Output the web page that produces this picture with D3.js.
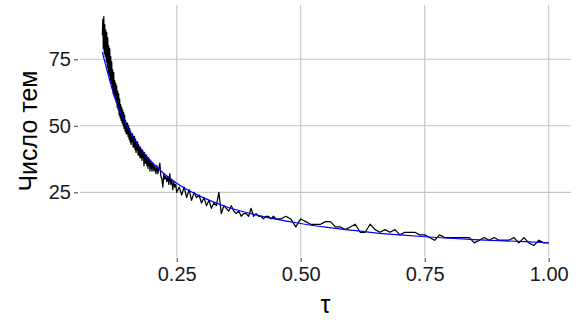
<!DOCTYPE html>
<html>
<head>
<meta charset="utf-8">
<script src="https://cdn.jsdelivr.net/npm/d3@7"></script>
<style>
  body { margin: 0; background: #fff; }
  svg text { font-family: "Liberation Sans", Arial, sans-serif; }
</style>
</head>
<body>
<svg id="chart" width="582" height="320"></svg>
<script>
// black series: number of topics for each tau
const topics = [
  [0.100, 84], [0.101, 90], [0.102, 79], [0.103, 91], [0.104, 77], [0.105, 88], [0.106, 76], [0.107, 86],
  [0.108, 74], [0.109, 85], [0.110, 72], [0.111, 83], [0.112, 70], [0.113, 80], [0.114, 69], [0.115, 79],
  [0.116, 67], [0.117, 76], [0.118, 66], [0.119, 74], [0.120, 64], [0.121, 71], [0.122, 62], [0.123, 70],
  [0.124, 61], [0.125, 67], [0.126, 60], [0.127, 66], [0.128, 59], [0.129, 65], [0.130, 57], [0.131, 63],
  [0.132, 56], [0.133, 62], [0.134, 54], [0.135, 60], [0.136, 53], [0.137, 58], [0.138, 52], [0.139, 57],
  [0.140, 51], [0.141, 56], [0.142, 50], [0.143, 55], [0.144, 49], [0.145, 54], [0.146, 48], [0.147, 52],
  [0.148, 47], [0.149, 51], [0.150, 47], [0.151, 51], [0.152, 46], [0.153, 50], [0.154, 45], [0.155, 49],
  [0.156, 44], [0.157, 48], [0.158, 43], [0.159, 47], [0.160, 44], [0.161, 47], [0.162, 42], [0.163, 46],
  [0.164, 42], [0.165, 46], [0.166, 41], [0.167, 45], [0.168, 40], [0.169, 44], [0.170, 41], [0.171, 44],
  [0.172, 39], [0.173, 43], [0.174, 39], [0.175, 42], [0.176, 38], [0.177, 42], [0.178, 38], [0.179, 41],
  [0.180, 37], [0.181, 41], [0.182, 38], [0.183, 40], [0.184, 35], [0.185, 40], [0.186, 36], [0.187, 39],
  [0.188, 36], [0.189, 39], [0.190, 35], [0.191, 38], [0.192, 34], [0.193, 38], [0.194, 35], [0.195, 37],
  [0.196, 33], [0.197, 37], [0.198, 34], [0.199, 36], [0.200, 33],
  [0.202, 36], [0.204, 33], [0.206, 35], [0.208, 32], [0.210, 35], [0.212, 32], [0.214, 34], [0.216, 36],
  [0.218, 31], [0.220, 30], [0.222, 27], [0.224, 32], [0.226, 30], [0.228, 31], [0.230, 29], [0.232, 31],
  [0.234, 28], [0.236, 32], [0.238, 28], [0.240, 30], [0.242, 26], [0.244, 29], [0.246, 27], [0.248, 28],
  [0.250, 25],
  [0.255, 27], [0.260, 24], [0.265, 27], [0.270, 23], [0.275, 26], [0.280, 22], [0.285, 25], [0.290, 23],
  [0.295, 24], [0.300, 21], [0.305, 23], [0.310, 20], [0.315, 22], [0.320, 19], [0.325, 21], [0.330, 20],
  [0.335, 25], [0.340, 17], [0.345, 20], [0.350, 19], [0.355, 18], [0.360, 20], [0.365, 18], [0.370, 17],
  [0.375, 18], [0.380, 16], [0.385, 17], [0.390, 17], [0.395, 16], [0.400, 19], [0.405, 16], [0.410, 17],
  [0.415, 16], [0.420, 16], [0.425, 15], [0.430, 16], [0.435, 16], [0.440, 15], [0.445, 16], [0.450, 15],
  [0.46, 15], [0.47, 16], [0.48, 15], [0.49, 12], [0.50, 15], [0.51, 14], [0.52, 13], [0.53, 13],
  [0.54, 13], [0.55, 14], [0.56, 14], [0.57, 12], [0.58, 12], [0.59, 11], [0.60, 12], [0.61, 13],
  [0.62, 10], [0.63, 10], [0.64, 13], [0.65, 11], [0.66, 10], [0.67, 11], [0.68, 10], [0.69, 11],
  [0.70, 9], [0.71, 10], [0.72, 10], [0.73, 10], [0.74, 9], [0.75, 9], [0.76, 8], [0.77, 7],
  [0.78, 9], [0.79, 8], [0.80, 8], [0.81, 8], [0.82, 8], [0.83, 8], [0.84, 8], [0.85, 6],
  [0.86, 7], [0.87, 8], [0.88, 7], [0.89, 8], [0.90, 7], [0.91, 7], [0.92, 7], [0.93, 8],
  [0.94, 6], [0.95, 8], [0.96, 6], [0.97, 5], [0.98, 7], [0.99, 6], [1.00, 6]
]

// blue smoothed trend
const trendTau = [0.10, 0.125, 0.15, 0.175, 0.20, 0.225, 0.25, 0.30, 0.35, 0.40, 0.45, 0.50,
  0.55, 0.60, 0.65, 0.70, 0.75, 0.80, 0.85, 0.90, 0.95, 1.00]
const trendVal = [77.7, 60.8, 49.8, 42.0, 36.3, 31.9, 28.4, 23.3, 19.6, 17.0, 14.9, 13.3,
  11.9, 10.8, 9.8, 9.0, 8.3, 7.75, 7.25, 6.85, 6.45, 6.05]

const xTicks = [0.25, 0.50, 0.75, 1.00]
const yTicks = [25, 50, 75]
const xTitle = 'τ'
const yTitle = 'Число тем'

const panel = { left: 80, right: 571, top: 5, bottom: 257 }
const gridColor = '#c6c6c6'

const svg = d3.select('#chart')

const x = d3.scaleLinear().domain([0.055, 1.045]).range([panel.left, panel.right])
const y = d3.scaleLinear().domain([0.7, 95.4]).range([panel.bottom, panel.top])

// grid
svg.append('g')
  .selectAll('line')
  .data(yTicks)
  .join('line')
  .attr('x1', panel.left).attr('x2', panel.right)
  .attr('y1', d => y(d)).attr('y2', d => y(d))
  .style('stroke', gridColor)
  .style('stroke-width', 1.1)

svg.append('g')
  .selectAll('line')
  .data(xTicks)
  .join('line')
  .attr('y1', panel.top).attr('y2', panel.bottom)
  .attr('x1', d => x(d)).attr('x2', d => x(d))
  .style('stroke', gridColor)
  .style('stroke-width', 1.1)

// axes
const xAxis = svg.append('g')
  .attr('transform', 'translate(0,' + (panel.bottom + 1) + ')')
  .call(d3.axisBottom(x).tickValues(xTicks).tickFormat(d3.format('.2f')).tickSize(4).tickPadding(5))
xAxis.select('.domain').remove()

const yAxis = svg.append('g')
  .attr('transform', 'translate(' + (panel.left - 2) + ',0)')
  .call(d3.axisLeft(y).tickValues(yTicks).tickSize(4).tickPadding(3))
yAxis.select('.domain').remove()

svg.selectAll('.tick line').style('stroke', '#4d4d4d').style('stroke-width', 1.1)
svg.selectAll('.tick text')
  .style('font-size', '20px')
  .style('fill', '#1a1a1a')
  .style('font-family', '"Liberation Sans", Arial, sans-serif')

// lines
const rawLine = d3.line()
  .x(d => x(d[0]))
  .y(d => y(d[1]))

svg.append('path')
  .datum(topics)
  .attr('d', rawLine)
  .style('fill', 'none')
  .style('stroke', '#000')
  .style('stroke-width', 1.25)
  .style('stroke-linejoin', 'round')

const trendLine = d3.line()
  .x((d, i) => x(trendTau[i]))
  .y(d => y(d))
  .curve(d3.curveMonotoneX)

svg.append('path')
  .datum(trendVal)
  .attr('d', trendLine)
  .style('fill', 'none')
  .style('stroke', '#0000ff')
  .style('stroke-width', 1.2)

// titles
svg.append('text')
  .attr('x', (panel.left + panel.right) / 2)
  .attr('y', 313)
  .attr('text-anchor', 'middle')
  .style('font-size', '25px')
  .style('fill', '#000')
  .text(xTitle)

svg.append('text')
  .attr('transform', 'translate(37,' + ((panel.top + panel.bottom) / 2) + ')rotate(-90)')
  .attr('text-anchor', 'middle')
  .style('font-size', '25px')
  .style('fill', '#000')
  .text(yTitle)
</script>
</body>
</html>
